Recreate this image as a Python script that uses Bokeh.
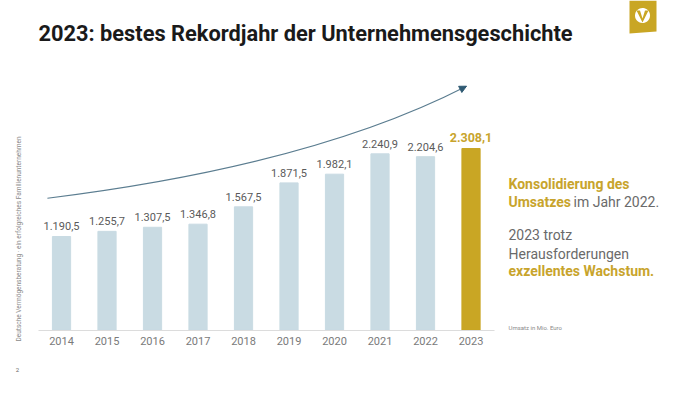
import numpy as np
from bokeh.plotting import figure
from bokeh.models import (Range1d, FixedTicker, Label, Arrow, NormalHead,
                          PolyAnnotation, ColumnDataSource)
from bokeh.core.properties import value
from bokeh.embed import file_html
from bokeh.resources import INLINE

# ---------------- data ----------------
years = [2014, 2015, 2016, 2017, 2018, 2019, 2020, 2021, 2022, 2023]
umsatz = [1190.5, 1255.7, 1307.5, 1346.8, 1567.5, 1871.5, 1982.1, 2240.9, 2204.6, 2308.1]
title_text = "2023: bestes Rekordjahr der Unternehmensgeschichte"
side_note = "Deutsche Vermögensberatung · ein erfolgreiches Familienunternehmen"
unit_note = "Umsatz in Mio. Euro"
page_no = "2"

def de_fmt(v):
    return f"{v:,.1f}".replace(",", "X").replace(".", ",").replace("X", ".")

FONT = "Roboto"
GREY_BAR = "#c9dbe3"
GOLD = "#c9a624"
GOLD_TXT = "#c8a42c"
TXT = "#6a6a6a"

idx = list(range(len(years)))
hist_idx = idx[:-1]
src_hist = ColumnDataSource(dict(x=hist_idx, top=umsatz[:-1],
                                 lbl=[de_fmt(v) for v in umsatz[:-1]]))
src_last = ColumnDataSource(dict(x=[idx[-1]], top=[umsatz[-1]],
                                 lbl=[de_fmt(umsatz[-1])]))

W, H = 684, 378
p = figure(width=W, height=H, output_backend="svg", toolbar_location=None,
           x_range=Range1d(-1.341, 13.692), y_range=Range1d(-614, 4189),
           y_axis_location=None, min_border=0,
           outline_line_color=None, background_fill_color="white",
           border_fill_color="white")
p.grid.visible = False

# bars
p.vbar(x="x", top="top", width=0.4, source=src_hist, color=GREY_BAR)
p.vbar(x="x", top="top", width=0.4, source=src_last, color=GOLD)

# value labels
p.text(x="x", y="top", text="lbl", source=src_hist, text_align="center",
       text_baseline="bottom", y_offset=-6, text_font=value(FONT),
       text_font_size="11px", text_color="#5a5a5a")
p.text(x="x", y="top", text="lbl", source=src_last, text_align="center",
       text_baseline="bottom", y_offset=-7, text_font=value(FONT),
       text_font_size="12.5px", text_font_style="bold", text_color=GOLD_TXT)

# x axis drawn at the zero line inside the frame
ax = p.xaxis[0]
ax.fixed_location = 0
ax.ticker = FixedTicker(ticks=idx)
ax.major_label_overrides = {i: str(y) for i, y in zip(idx, years)}
ax.bounds = (-0.5, 9.52)
ax.axis_line_color = "#dcdcdc"
ax.axis_line_width = 1.2
ax.major_tick_line_color = None
ax.minor_tick_line_color = None
ax.major_tick_out = 0
ax.major_tick_in = 0
ax.major_label_standoff = 7
ax.major_label_text_font = FONT
ax.major_label_text_font_size = "11px"
ax.major_label_text_color = "#7a7a7a"

# decorative growth arrow (quadratic curve)
x0, y0 = -0.31, 1677
xc, yc = 5.5, 2092
x1, y1 = 8.9, 3100
p.quadratic(x0=[x0], y0=[y0], x1=[x1], y1=[y1], cx=[xc], cy=[yc],
            line_color="#5b7d90", line_width=1.1)
p.add_layout(Arrow(end=NormalHead(size=7, fill_color="#2f5a73", line_color="#2f5a73"),
                   x_start=x1 - 0.1 * (x1 - xc), y_start=y1 - 0.1 * (y1 - yc),
                   x_end=x1, y_end=y1, line_alpha=0))

def lab(text, x, y, size, color, bold=False, **kw):
    # x, y given in page pixels from the top-left corner
    p.add_layout(Label(text=text, x=x, y=H - y, x_units="screen", y_units="screen",
                       text_font=FONT, text_font_size=size, text_color=color,
                       text_font_style="bold" if bold else "normal", **kw))

# title
lab(title_text, 38, 45, "21.8px", "#1a1a1a", bold=True)

# right-hand commentary
lab("Konsolidierung des", 508, 191, "14px", GOLD_TXT, bold=True)
lab("Umsatzes", 508, 209.5, "14px", GOLD_TXT, bold=True)
lab("im Jahr 2022.", 573, 209.5, "14px", TXT)
lab("2023 trotz", 508, 242, "14px", TXT)
lab("Herausforderungen", 508, 261, "14px", TXT)
lab("exzellentes Wachstum.", 508, 278.5, "14px", GOLD_TXT, bold=True)

lab(unit_note, 508, 330, "6px", "#8a8a8a")
lab(side_note, 18, 238.5, "6.5px", "#8a8a8a", angle=np.pi / 2,
    text_align="center", text_baseline="middle")
lab(page_no, 17, 369, "6px", "#666666", text_align="center", text_baseline="middle")

# logo
p.add_layout(PolyAnnotation(xs=[629, 656, 656, 629], ys=[H, H, H - 31, H - 33],
                            xs_units="screen", ys_units="screen",
                            fill_color=GOLD, fill_alpha=1, line_alpha=0))
t = np.linspace(0, 2 * np.pi, 40)
p.add_layout(PolyAnnotation(xs=list(642 + 7.5 * np.cos(t)), ys=list(H - 15 + 7.5 * np.sin(t)),
                            xs_units="screen", ys_units="screen",
                            fill_color="white", fill_alpha=1, line_alpha=0))
p.add_layout(PolyAnnotation(xs=[636, 639.5, 642, 644.5, 648, 642],
                            ys=[H - 10, H - 10, H - 18, H - 10, H - 10, H - 22],
                            xs_units="screen", ys_units="screen",
                            fill_color=GOLD, fill_alpha=1, line_alpha=0))

open("out.html", "w").write(file_html(p, INLINE))
